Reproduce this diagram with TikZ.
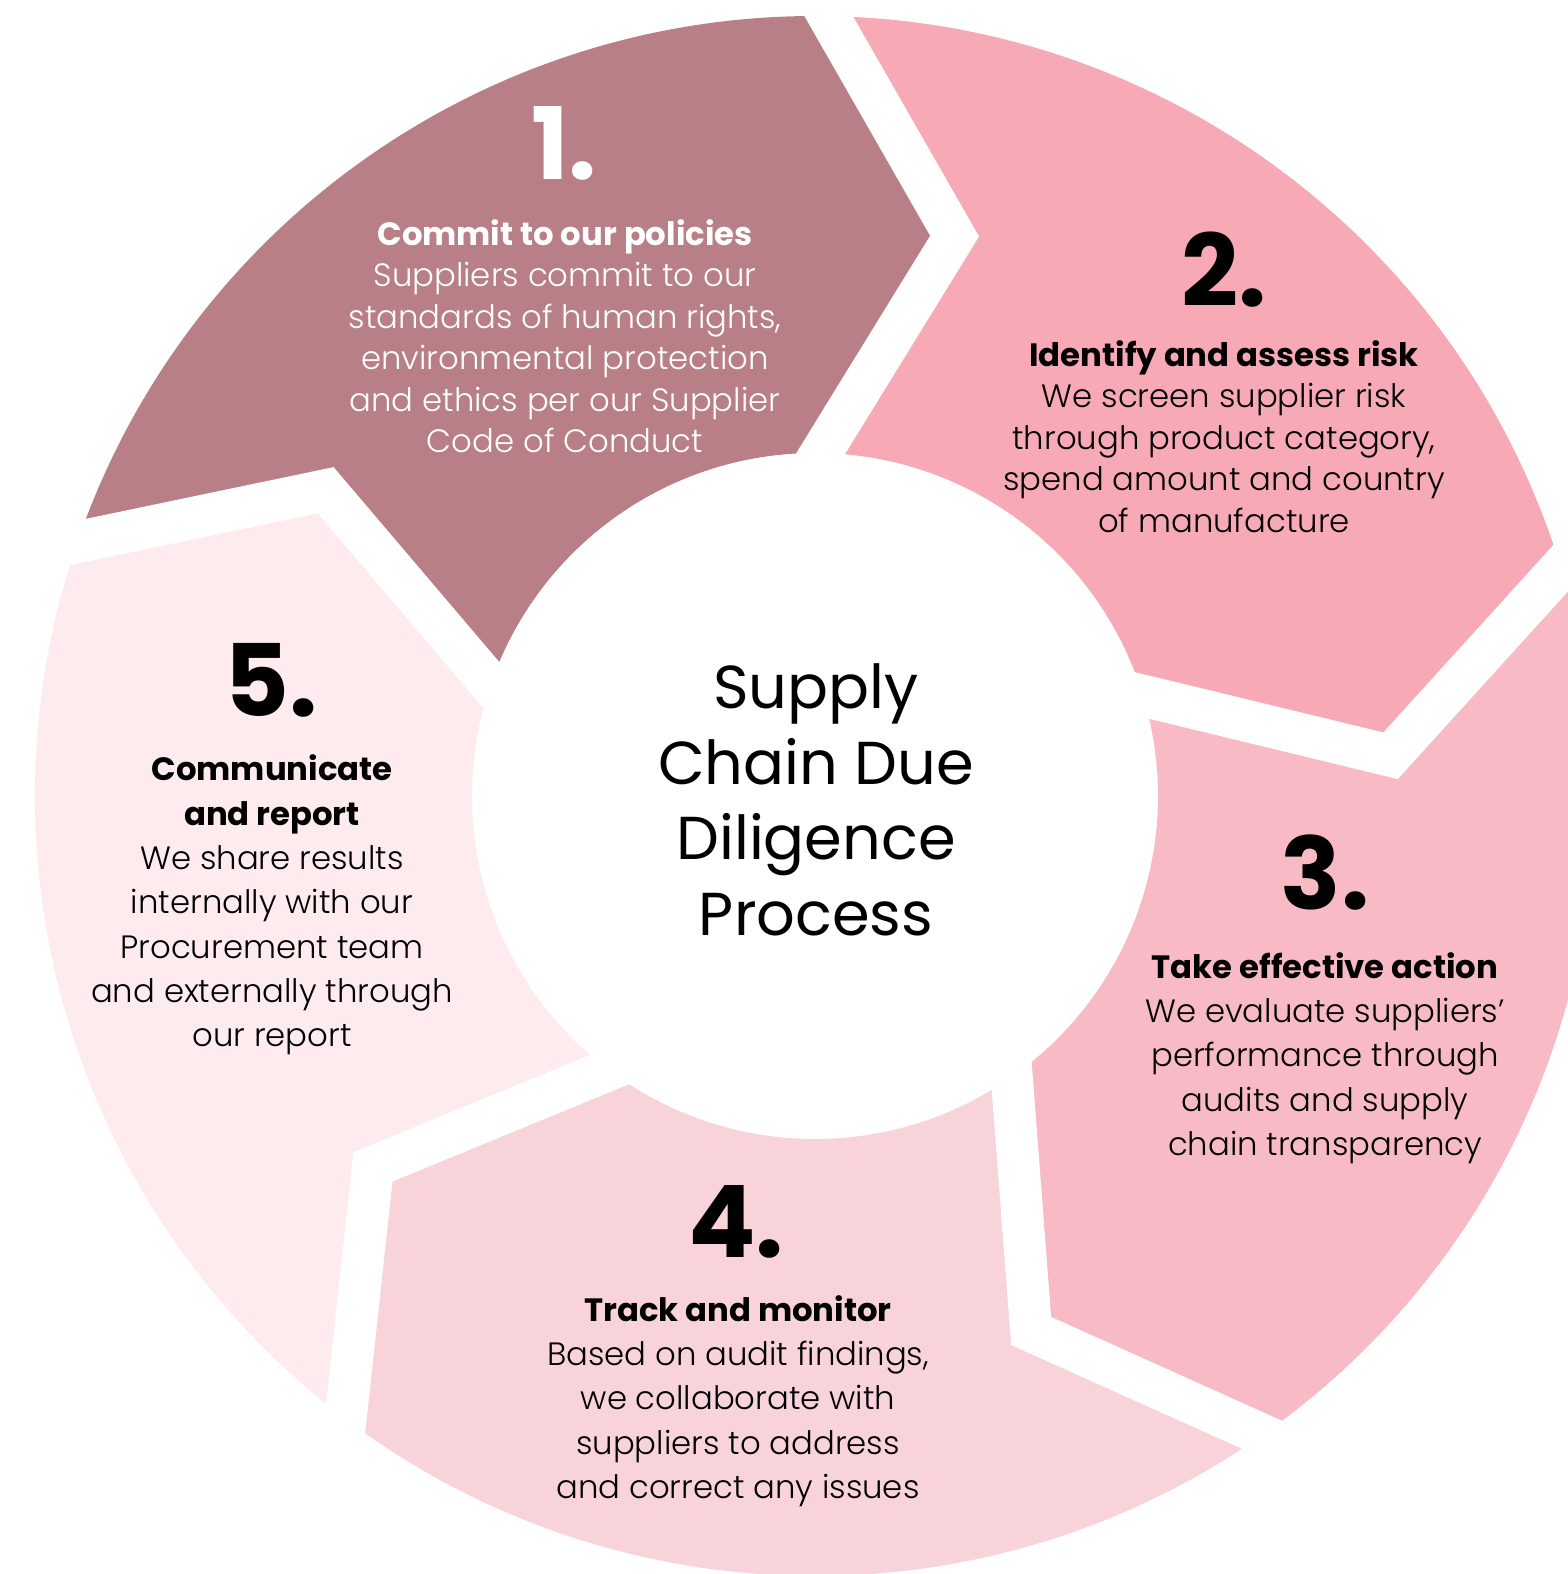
\documentclass[tikz,border=0pt]{standalone}
\usepackage{fontspec}
\setmainfont{Poppins}
\newfontfamily\lightfont{Poppins Light}
\usetikzlibrary{calc}
\definecolor{segA}{HTML}{B87F86}
\definecolor{segB}{HTML}{F7AAB6}
\definecolor{segC}{HTML}{F8BAC5}
\definecolor{segD}{HTML}{F9D3DA}
\definecolor{segE}{HTML}{FDEBED}
\begin{document}
\begin{tikzpicture}[x=1pt,y=1pt,
  gapline/.style={white,line width=42pt,miter limit=20,line join=miter},
  numtext/.style={font=\bfseries\fontsize{100}{100}\selectfont,inner sep=0pt},
  blocktext/.style={align=center,inner sep=0pt,font=\lightfont\fontsize{32.3}{41.5}\selectfont},
  blocktextb/.style={align=center,inner sep=0pt,font=\lightfont\fontsize{32.3}{44.3}\selectfont},
  centertext/.style={align=center,inner sep=0pt,font=\fontsize{60.6}{75.5}\selectfont}]
\useasboundingbox (-815,-778) rectangle (753,796);
\clip (-815,-778) rectangle (753,796);
\foreach \a/\b/\c in {161/89/segA, 89/17/segB, 17/-55/segC, -55/-127/segD, -127/-199/segE} {
  \fill[\c] (\a:780) arc[start angle=\a, end angle=\b, radius=780] -- ({\b-13}:577) -- (\b:343)
    arc[start angle=\b, end angle=\a, radius=343] -- ({\a-13}:577) -- cycle;
}
\foreach \t in {161,89,17,-55,-127} {
  \coordinate (ap) at ({\t-13}:577);
  \draw[gapline] ($(ap)!1.4!(\t:780)$) -- (ap) -- ($(ap)!1.4!(\t:343)$);
}
% segment 1
\node[numtext,text=white] (n1) at (-251,653) {1.};
\node[blocktext,text=white] (t1) at (-250,460) {{\normalfont\bfseries Commit to our policies}\\Suppliers commit to our\\standards of human rights,\\environmental protection\\and ethics per our Supplier\\Code of Conduct};
% segment 2
\node[numtext] (n2) at (409,526) {2.};
\node[blocktext] (t2) at (409,359.5) {{\normalfont\bfseries Identify and assess risk}\\We screen supplier risk\\through product category,\\spend amount and country\\of manufacture};
% segment 3
\node[numtext] (n3) at (510,-77) {3.};
\node[blocktextb] (t3) at (510,-262) {{\normalfont\bfseries Take effective action}\\We evaluate suppliers’\\performance through\\audits and supply\\chain transparency};
% segment 4
\node[numtext] (n4) at (-79,-426) {4.};
\node[blocktextb] (t4) at (-77,-605) {{\normalfont\bfseries Track and monitor}\\Based on audit findings,\\we collaborate with\\suppliers to address\\and correct any issues};
% segment 5
\node[numtext] (n5) at (-544,116) {5.};
\node[blocktextb] (t5) at (-543,-109) {{\normalfont\bfseries Communicate}\\{\normalfont\bfseries and report}\\We share results\\internally with our\\Procurement team\\and externally through\\our report};
% centre
\node[centertext] (c) at (1,-4) {Supply\\Chain Due\\Diligence\\Process};
\end{tikzpicture}
\end{document}
